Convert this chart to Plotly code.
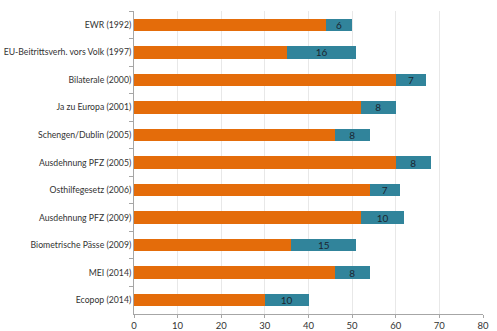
import plotly.graph_objects as go

categories = ["EWR (1992)", "EU-Beitrittsverh. vors Volk (1997)", "Bilaterale (2000)",
              "Ja zu Europa (2001)", "Schengen/Dublin (2005)", "Ausdehnung PFZ (2005)",
              "Osthilfegesetz (2006)", "Ausdehnung PFZ (2009)", "Biometrische Pässe (2009)",
              "MEI (2014)", "Ecopop (2014)"]
base_values = [44, 35, 60, 52, 46, 60, 54, 52, 36, 46, 30]
diff_values = [6, 16, 7, 8, 8, 8, 7, 10, 15, 8, 10]
x_ticks = [0, 10, 20, 30, 40, 50, 60, 70, 80]

fig = go.Figure()
fig.add_trace(go.Bar(
    y=categories, x=base_values, orientation="h",
    marker=dict(color="#E46C0A", line=dict(width=0)),
    hoverinfo="skip", showlegend=False,
))
fig.add_trace(go.Bar(
    y=categories, x=diff_values, orientation="h",
    marker=dict(color="#31849B", line=dict(width=0)),
    text=[str(v) for v in diff_values], textposition="inside", textangle=0,
    insidetextanchor="middle", constraintext="none",
    textfont=dict(family="Lato", size=10, color="#1B2631"),
    hoverinfo="skip", showlegend=False,
))

fig.update_layout(
    barmode="stack", bargap=0.55,
    width=497, height=331,
    margin=dict(l=134, r=14, t=11, b=17),
    paper_bgcolor="white", plot_bgcolor="white",
    font=dict(family="Lato", size=9, color="#333333"),
    xaxis=dict(
        range=[0, 80], tickvals=x_ticks, ticktext=[str(t) for t in x_ticks],
        showgrid=True, gridcolor="#E8E8E8", gridwidth=1,
        showline=True, linecolor="#A6A6A6", linewidth=1,
        ticks="outside", ticklen=3, tickcolor="#A6A6A6",
        zeroline=False, tickfont=dict(size=9.5, color="#333333"),
        automargin=False,
    ),
    yaxis=dict(
        categoryorder="array", categoryarray=categories, autorange="reversed",
        showline=True, linecolor="#A6A6A6", linewidth=1,
        ticks="outside", ticklen=4, tickcolor="#A6A6A6", tickson="boundaries",
        showgrid=False, tickfont=dict(size=8.7, color="#333333"),
        automargin=False,
    ),
)

fig.write_html("out.html")
